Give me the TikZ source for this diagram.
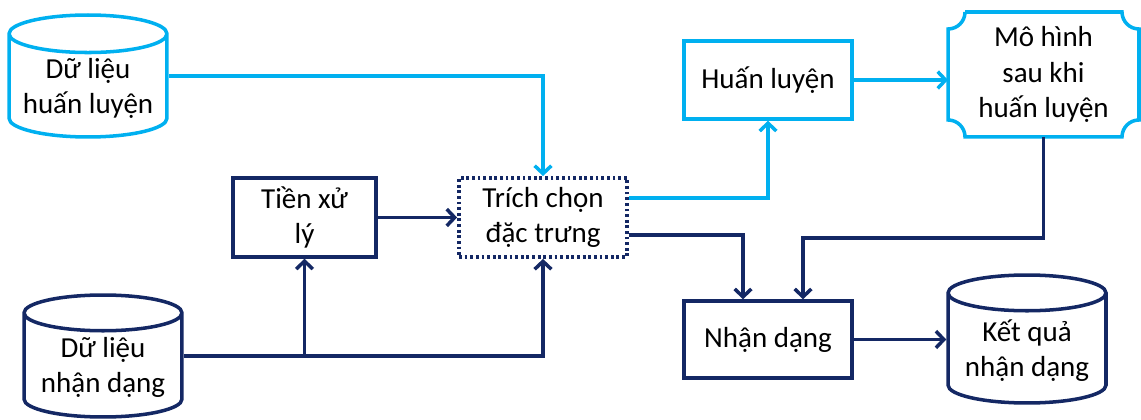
\documentclass[tikz,border=0pt]{standalone}
\usepackage{fontspec}
\setmainfont{Carlito}
\usetikzlibrary{shapes.geometric, arrows.meta, positioning, calc}

\definecolor{lblue}{RGB}{0,176,240}
\definecolor{dblue}{RGB}{20,40,100}

\begin{document}
\begin{tikzpicture}
		[x=0.02cm, y=0.02cm,
		font=\fontsize{16.5}{20}\selectfont,
		line width=2pt,
		>={Straight Barb[length=4.5pt,width=9.5pt]},
		stage/.style = {draw, rectangle, align=center, inner sep=2pt},
		store/.style = {draw, cylinder, shape border rotate=90, aspect=0.28, anchor=shape center, align=center, inner sep=1pt, minimum width=3.16cm, minimum height=2.44cm},
		dots/.style = {draw=dblue, line width=2.2pt, dash pattern=on 1.6pt off 1.6pt}]
		
		\useasboundingbox (0,0) rectangle (1141,419);
		
		% data stores
		\node[store, draw=lblue] (traindata) at (88,343) {Dữ liệu\\huấn luyện};
		\node[store, draw=dblue] (testdata) at (103,63) {Dữ liệu\\nhận dạng};
		\node[store, draw=dblue, minimum height=2.56cm] (result) at (1027,80) {Kết quả\\nhận dạng};
		
		% processing stages
		\node[stage, draw=dblue, minimum width=2.86cm, minimum height=1.58cm] (prep) at (304.5,201.5) {Tiền xử\\lý};
		\node[stage, dots, minimum width=3.36cm, minimum height=1.58cm] (feat) at (543,201.5) {Trích chọn\\đặc trưng};
		\node[stage, draw=lblue, minimum width=3.36cm, minimum height=1.56cm] (train) at (768,339) {Huấn luyện};
		\node[stage, draw=dblue, minimum width=3.36cm, minimum height=1.54cm] (recog) at (768,79.5) {Nhận dạng};
		
		% trained model, box with hollow corners
		\node[stage, draw=none, outer sep=0pt, minimum width=3.82cm, minimum height=2.5cm] (model) at (1043.5,344.5) {Mô hình\\sau khi\\huấn luyện};
		\draw[lblue] ($(model.north west)+(17,0)$) -- ($(model.north east)+(-17,0)$)
			arc[start angle=180, end angle=270, radius=0.34cm] -- ($(model.south east)+(0,17)$)
			arc[start angle=90, end angle=180, radius=0.34cm] -- ($(model.south west)+(17,0)$)
			arc[start angle=0, end angle=90, radius=0.34cm] -- ($(model.north west)+(0,-17)$)
			arc[start angle=270, end angle=360, radius=0.34cm];
		
		\coordinate (split) at (prep.south |- testdata.shape center);
		
		% training branch
		\draw[lblue, ->] (traindata.shape center -| traindata.east) -| (feat.north);
		\draw[lblue, ->] ($(feat.east)+(0,19.5)$) -| (train.south);
		\draw[lblue, ->] (train.east) -- (train.east -| model.west);
		
		% recognition branch
		\draw[dblue, ->] (testdata.shape center -| testdata.east) -| (feat.south);
		\draw[dblue, ->] (split) -- (prep.south);
		\draw[dblue, ->] (prep) -- (feat);
		\draw[dblue, ->] ($(feat.east)+(0,-17.5)$) -| ($(recog.north)+(-25,0)$);
		\draw[dblue, ->] (model.south) -- ++(0,-101) -| ($(recog.north)+(35,0)$);
		\draw[dblue, ->] (recog.east) -- (recog.east -| result.west);
		
	\end{tikzpicture}
\end{document}
